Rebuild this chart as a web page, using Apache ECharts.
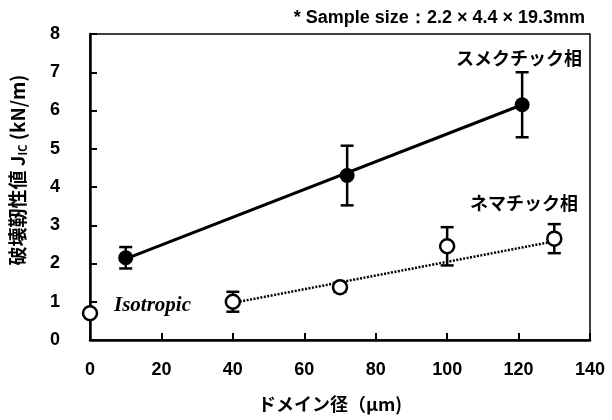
<!DOCTYPE html>
<html>
<head>
<meta charset="utf-8">
<script src="https://cdn.jsdelivr.net/npm/echarts@6/dist/echarts.min.js"></script>
<style>
  html, body { margin: 0; padding: 0; background: #fff; }
  #main { width: 612px; height: 420px; }
</style>
</head>
<body>
<div id="main"></div>
<script>
// smectic phase (filled circles)
var smecticX = [10, 72, 121];
var smecticY = [2.15, 4.3, 6.15];
var smecticErr = [0.28, 0.78, 0.85];
var smecticFitX = [10, 121];
var smecticFitY = [2.12, 6.15];

// nematic phase (open circles), first one is the isotropic sample
var nematicX = [0, 40, 70, 100, 130];
var nematicY = [0.7, 1.0, 1.38, 2.45, 2.65];
var nematicErr = [0, 0.26, 0.12, 0.5, 0.38];
var nematicFitX = [40, 130];
var nematicFitY = [0.97, 2.58];

var chartDom = document.getElementById('main');
var myChart = echarts.init(chartDom);
var option;

function pairs(xs, ys) {
    return xs.map(function (x, i) { return [x, ys[i]]; });
}

function errData(xs, ys, es) {
    var out = [];
    xs.forEach(function (x, i) {
        if (es[i] > 0) out.push([x, ys[i] - es[i], ys[i] + es[i]]);
    });
    return out;
}

function renderErr(params, api) {
    var lo = api.coord([api.value(0), api.value(1)]);
    var hi = api.coord([api.value(0), api.value(2)]);
    var w = 6.5;
    var st = { stroke: '#000', lineWidth: 2.5 };
    return {
        type: 'group',
        children: [
            { type: 'line', shape: { x1: lo[0], y1: lo[1], x2: hi[0], y2: hi[1] }, style: st },
            { type: 'line', shape: { x1: lo[0] - w, y1: lo[1], x2: lo[0] + w, y2: lo[1] }, style: st },
            { type: 'line', shape: { x1: hi[0] - w, y1: hi[1], x2: hi[0] + w, y2: hi[1] }, style: st }
        ]
    };
}

var tickFont = { fontFamily: 'Liberation Sans', fontSize: 18, fontWeight: 'bold', color: '#000' };
var jpFont = 'bold 18px "Noto Sans CJK JP"';

option = {
    animation: false,
    backgroundColor: '#fff',
    title: {
        text: '* Sample size\uff1a2.2 \u00d7 4.4 \u00d7 19.3mm',
        right: 22,
        top: 4,
        textStyle: { fontFamily: 'Liberation Sans', fontSize: 18, fontWeight: 'bold', color: '#000' }
    },
    grid: {
        left: 90, right: 22, top: 34, bottom: 80,
        show: true, borderColor: '#000', borderWidth: 1.5
    },
    xAxis: {
        type: 'value',
        min: 0, max: 140, interval: 20,
        axisLine: { show: true, lineStyle: { color: '#000', width: 2.5 } },
        axisTick: { show: true, inside: true, length: 7, lineStyle: { color: '#000', width: 2 } },
        axisLabel: Object.assign({ margin: 21 }, tickFont),
        splitLine: { show: false }
    },
    yAxis: {
        type: 'value',
        min: 0, max: 8, interval: 1,
        axisLine: { show: true, lineStyle: { color: '#000', width: 2.5 } },
        axisTick: { show: true, inside: true, length: 7, lineStyle: { color: '#000', width: 2 } },
        axisLabel: Object.assign({ margin: 30 }, tickFont),
        splitLine: { show: false }
    },
    graphic: [
        { type: 'text', right: 30, top: 49, style: { text: '\u30b9\u30e1\u30af\u30c1\u30c3\u30af\u76f8', font: jpFont, fill: '#000' } },
        { type: 'text', right: 34, top: 194, style: { text: '\u30cd\u30de\u30c1\u30c3\u30af\u76f8', font: jpFont, fill: '#000' } },
        { type: 'text', left: 114, top: 295, style: { text: 'Isotropic', font: 'italic bold 21px "Liberation Serif"', fill: '#000' } },
        {
            type: 'text', x: 330, y: 404,
            style: { text: '\u30c9\u30e1\u30a4\u30f3\u5f84\uff08\u03bcm)', font: jpFont, fill: '#000', align: 'center', verticalAlign: 'middle' }
        },
        {
            type: 'text', x: 18, y: 170, rotation: Math.PI / 2,
            style: {
                text: '{a|\u7834\u58ca\u976d\u6027\u5024 J}{s|IC}{a| (kN/m)}',
                align: 'center', verticalAlign: 'middle',
                rich: {
                    a: { font: 'bold 19px "Noto Sans CJK JP"', fill: '#000' },
                    s: { font: 'bold 11px "Noto Sans CJK JP"', fill: '#000', padding: [9, 0, 0, 0] }
                }
            }
        }
    ],
    series: [
        {
            type: 'line',
            data: pairs(smecticFitX, smecticFitY),
            symbol: 'none',
            lineStyle: { color: '#000', width: 3 },
            z: 2
        },
        {
            type: 'line',
            data: pairs(nematicFitX, nematicFitY),
            symbol: 'none',
            lineStyle: { color: '#000', width: 2.5, type: [2, 1.5] },
            z: 2
        },
        {
            type: 'custom',
            renderItem: renderErr,
            data: errData(smecticX, smecticY, smecticErr).concat(errData(nematicX, nematicY, nematicErr)),
            encode: { x: 0, y: [1, 2] },
            z: 3
        },
        {
            type: 'scatter',
            data: pairs(smecticX, smecticY),
            symbol: 'circle',
            symbolSize: 15,
            itemStyle: { color: '#000', opacity: 1 },
            clip: false,
            z: 4
        },
        {
            type: 'scatter',
            data: pairs(nematicX, nematicY),
            symbol: 'circle',
            symbolSize: 14,
            itemStyle: { color: '#fff', borderColor: '#000', borderWidth: 2.5, opacity: 1 },
            clip: false,
            z: 4
        }
    ]
};

option && myChart.setOption(option);
</script>
</body>
</html>
